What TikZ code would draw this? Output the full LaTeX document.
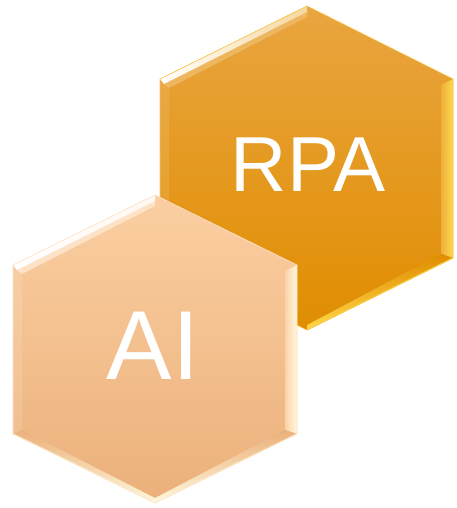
\documentclass[tikz,border=0pt]{standalone}
\usepackage{fontspec}
\setmainfont{Liberation Sans}
\definecolor{rpatop}{HTML}{E9A540}
\definecolor{rpamid}{HTML}{E99C0C}
\definecolor{rpabot}{HTML}{E08D00}
\definecolor{aitop}{HTML}{FBCFA2}
\definecolor{aimid}{HTML}{FBC794}
\definecolor{aibot}{HTML}{EBB07A}
\definecolor{shine}{HTML}{FFF8DC}
\definecolor{goldedge}{HTML}{FFD84A}

\begin{document}
\begin{tikzpicture}[x=1pt,y=1pt,
    hextext/.style={text=white,inner sep=0pt}]
  \useasboundingbox (0,0) rectangle (457,-508);

  % RPA hexagon
  \coordinate (r1) at (307,-6);
  \coordinate (r2) at (453,-79);
  \coordinate (r3) at (453,-258);
  \coordinate (r4) at (307,-330);
  \coordinate (r5) at (160,-258);
  \coordinate (r6) at (160,-79);
  \coordinate (s1) at (307,-17);
  \coordinate (s2) at (441,-85);
  \coordinate (s3) at (441,-254);
  \coordinate (s4) at (307,-325);
  \coordinate (s5) at (169,-254);
  \coordinate (s6) at (169,-88);
  \coordinate (t1) at (307,-12);
  \coordinate (t6) at (164,-84);

  \shade[top color=rpatop,middle color=rpamid,bottom color=rpabot] (r1) -- (r2) -- (r3) -- (r4) -- (r5) -- (r6) -- cycle;
  \fill[rpatop!80!shine] (t6) -- (t1) -- (s1) -- (s6) -- cycle;
  \shade[left color=white,middle color=shine,right color=shine!60!rpatop] (r6) -- (r1) -- (t1) -- (t6) -- cycle;
  \shade[left color=rpamid!80!white,middle color=white,right color=goldedge] (s2) -- (r2) -- (r3) -- (s3) -- cycle;
  \shade[top color=rpabot,bottom color=goldedge] (r3) -- (r4) -- (s4) -- (s3) -- cycle;
  \fill[white,opacity=.1] (r5) -- (r6) -- (s6) -- (s5) -- cycle;
  \draw[goldedge,line width=1pt] (r3) -- (r4);
  \draw[goldedge!60!rpatop,line width=.6pt] (r1) -- (r2) -- (r3) -- (r4) -- (r5) -- (r6) -- cycle;

  \node[hextext,font=\fontsize{78}{78}\selectfont] (rpa) at (308,-165) {RPA};

  % AI hexagon
  \coordinate (a1) at (155,-195);
  \coordinate (a2) at (297,-265);
  \coordinate (a3) at (297,-434);
  \coordinate (a4) at (155,-503);
  \coordinate (a5) at (13,-434);
  \coordinate (a6) at (13,-265);
  \coordinate (b1) at (155,-206);
  \coordinate (b2) at (285,-271);
  \coordinate (b3) at (285,-430);
  \coordinate (b4) at (155,-498);
  \coordinate (b5) at (22,-430);
  \coordinate (b6) at (22,-274);
  \coordinate (c1) at (155,-201);
  \coordinate (c6) at (17,-270);

  \shade[top color=aitop,middle color=aimid,bottom color=aibot] (a1) -- (a2) -- (a3) -- (a4) -- (a5) -- (a6) -- cycle;
  \fill[aitop!60!white] (c6) -- (c1) -- (b1) -- (b6) -- cycle;
  \shade[left color=white,right color=white!85!aitop] (a6) -- (a1) -- (c1) -- (c6) -- cycle;
  \shade[left color=aimid!80!white,middle color=white,right color=shine] (b2) -- (a2) -- (a3) -- (b3) -- cycle;
  \shade[top color=aibot,bottom color=shine] (a3) -- (a4) -- (b4) -- (b3) -- cycle;
  \shade[top color=aibot,bottom color=shine] (a4) -- (a5) -- (b5) -- (b4) -- cycle;
  \fill[white,opacity=.12] (a5) -- (a6) -- (b6) -- (b5) -- cycle;
  \draw[shine,line width=1pt] (a3) -- (a4) -- (a5);
  \draw[aitop!60!white,line width=.6pt] (a1) -- (a2) -- (a3) -- (a4) -- (a5) -- (a6) -- cycle;

  \node[hextext,font=\fontsize{98}{98}\selectfont] (ai) at (153,-346) {AI};
\end{tikzpicture}
\end{document}
